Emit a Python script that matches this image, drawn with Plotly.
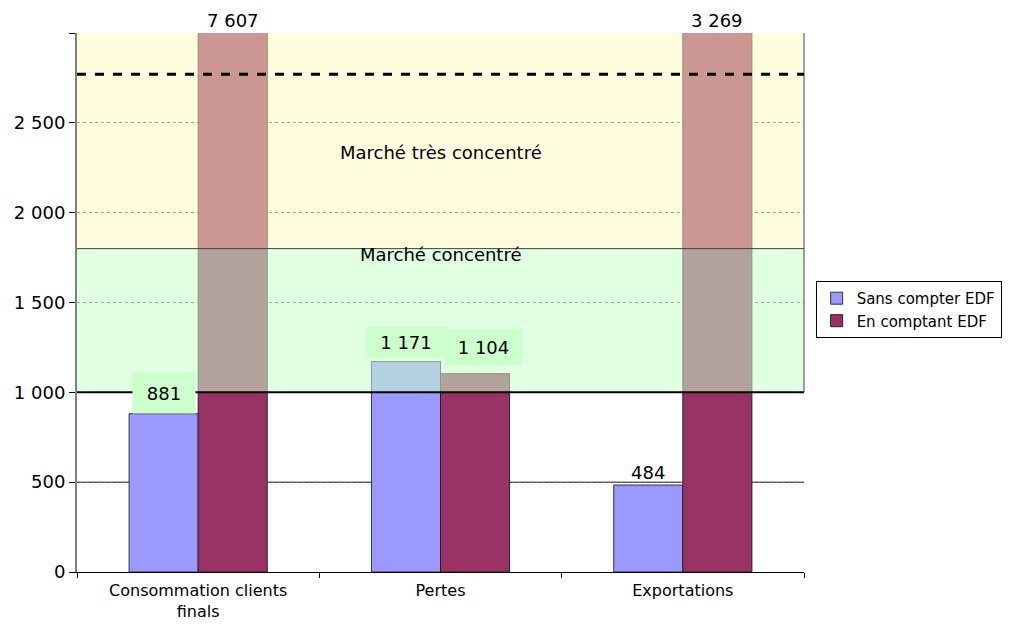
import plotly.graph_objects as go

categories = ["Consommation clients<br>finals", "Pertes", "Exportations"]
sans_edf = [881, 1171, 484]
avec_edf = [7607, 1104, 3269]
series_names = ["Sans compter EDF", "En comptant EDF"]

y_tickvals = [0, 500, 1000, 1500, 2000, 2500, 3000]
y_ticktext = ["0", "500", "1 000", "1 500", "2 000", "2 500", ""]
y_max = 3000

band_concentre = [1000, 1800]
band_tres_concentre = [1800, 3000]
dashed_level = 2770
band_labels = ["Marché très concentré", "Marché concentré"]
band_label_levels = [2335, 1765]

FONT = "DejaVu Sans"
BLUE = "#9999FF"
RED = "#993366"


def fmt(v):
    return f"{v:,}".replace(",", " ")


fig = go.Figure()
fig.add_trace(go.Bar(name=series_names[0], x=categories, y=sans_edf,
                     marker=dict(color=BLUE, line=dict(color="#333333", width=1))))
fig.add_trace(go.Bar(name=series_names[1], x=categories, y=avec_edf,
                     marker=dict(color=RED, line=dict(color="#222222", width=1))))

shapes = []
shapes.append(dict(type="rect", xref="paper", yref="y", x0=0, x1=1,
                   y0=band_concentre[0], y1=band_concentre[1],
                   fillcolor="rgba(200,255,200,0.55)", line=dict(width=0), layer="above"))
shapes.append(dict(type="rect", xref="paper", yref="y", x0=0, x1=1,
                   y0=band_tres_concentre[0], y1=band_tres_concentre[1],
                   fillcolor="rgba(255,252,190,0.5)", line=dict(width=0), layer="above"))
shapes.append(dict(type="line", xref="paper", yref="y", x0=0, x1=1,
                   y0=band_concentre[0], y1=band_concentre[0],
                   line=dict(color="black", width=2), layer="above"))
shapes.append(dict(type="line", xref="paper", yref="y", x0=0, x1=1,
                   y0=band_concentre[1], y1=band_concentre[1],
                   line=dict(color="#444444", width=1), layer="above"))
shapes.append(dict(type="line", xref="paper", yref="y", x0=1, x1=1,
                   y0=band_concentre[0], y1=band_tres_concentre[1],
                   line=dict(color="#444444", width=1), layer="above"))
shapes.append(dict(type="line", xref="paper", yref="y", x0=0, x1=1,
                   y0=dashed_level, y1=dashed_level,
                   line=dict(color="black", width=3, dash="dash"), layer="above"))
shapes.append(dict(type="line", xref="paper", yref="y", x0=0, x1=1,
                   y0=500, y1=500, line=dict(color="#222222", width=1), layer="below"))

annotations = []
for txt, lvl in zip(band_labels, band_label_levels):
    annotations.append(dict(text=txt, xref="paper", yref="y", x=0.5, y=lvl,
                            showarrow=False, font=dict(family=FONT, size=18, color="black")))

half = 34.5
label_bg = "#ccffcc"
for c, v in zip(categories, sans_edf):
    a = dict(text=fmt(v), x=c, y=min(v, y_max), xref="x", yref="y", showarrow=False,
             xshift=-half, yanchor="bottom", font=dict(family=FONT, size=18, color="black"))
    if v >= 800:
        a.update(bgcolor=label_bg, width=60 if v < 1000 else 76,
                 height=38 if v < 1000 else 28, yshift=0 if v < 1000 else 4)
    annotations.append(a)
for c, v in zip(categories, avec_edf):
    a = dict(text=fmt(v), x=c, y=min(v, y_max), xref="x", yref="y", showarrow=False,
             xshift=half, yanchor="bottom", font=dict(family=FONT, size=18, color="black"))
    if v < y_max:
        a.update(bgcolor=label_bg, width=75, height=33, yshift=8, xshift=half + 8)
    annotations.append(a)

fig.update_layout(
    width=1009, height=625,
    margin=dict(l=77, r=205, t=33, b=53, autoexpand=False),
    paper_bgcolor="white", plot_bgcolor="white",
    barmode="group", bargap=0.43, bargroupgap=0,
    font=dict(family=FONT, size=18, color="black"),
    shapes=shapes, annotations=annotations,
    legend=dict(x=1.016, y=0.54, xanchor="left", yanchor="top",
                bordercolor="black", borderwidth=1, bgcolor="white",
                font=dict(family=FONT, size=15), itemwidth=30,
                tracegroupgap=0),
    xaxis=dict(showline=True, linecolor="black", linewidth=1,
               ticks="outside", tickson="boundaries", ticklen=5, tickcolor="black",
               ticklabelstandoff=4,
               showgrid=False, tickfont=dict(family=FONT, size=16)),
    yaxis=dict(range=[0, y_max], tickvals=y_tickvals, ticktext=y_ticktext,
               showline=True, linecolor="#808080", linewidth=2,
               ticks="outside", ticklen=6, tickcolor="black",
               showgrid=True, gridcolor="#555555", gridwidth=1, griddash="dot",
               zeroline=False, tickfont=dict(family=FONT, size=18)),
)

fig.write_html("out.html", config={"displayModeBar": False},
               post_script="document.body.style.margin='0';document.body.style.overflow='hidden';")
